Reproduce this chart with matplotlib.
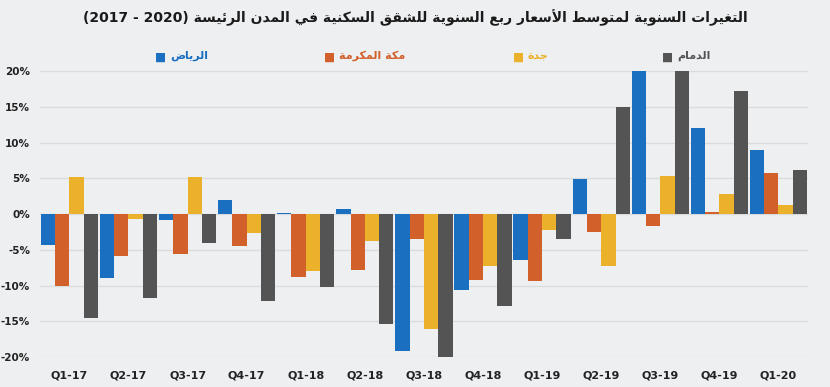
import numpy as np
import matplotlib
matplotlib.use("Agg")
import matplotlib.pyplot as plt

quarters = ['Q1-17', 'Q2-17', 'Q3-17', 'Q4-17', 'Q1-18', 'Q2-18', 'Q3-18',
            'Q4-18', 'Q1-19', 'Q2-19', 'Q3-19', 'Q4-19', 'Q1-20']
riyadh = [-4.4, -9.0, -0.9, 1.9, 0.1, 0.65, -19.1, -10.6, -6.5, 4.9, 20.0, 12.0, 9.0]
makkah = [-10.05, -5.85, -5.6, -4.5, -8.8, -7.8, -3.5, -9.2, -9.35, -2.5, -1.7, 0.35, 5.7]
jeddah = [5.2, -0.7, 5.2, -2.7, -8.0, -3.8, -16.1, -7.25, -2.3, -7.3, 5.3, 2.8, 1.3]
dammam = [-14.6, -11.7, -4.1, -12.1, -10.25, -15.4, -20.0, -12.9, -3.5, 15.0, 20.0, 17.2, 6.1]

series_names = ['الرياض', 'مكة المكرمة', 'جدة', 'الدمام']
colors = ['#1b6fc0', '#d2602a', '#ecb12a', '#545454']
title_ar = 'التغيرات السنوية لمتوسط الأسعار ربع السنوية للشقق السكنية في المدن الرئيسة'
title_years = '(2017 - 2020)'

# matplotlib has no arabic shaping, so pick presentation forms by hand
# (isolated, final, initial, medial)
FORMS = {
    'ا': ('\ufe8d', '\ufe8e', None, None),
    'أ': ('\ufe83', '\ufe84', None, None),
    'ب': ('\ufe8f', '\ufe90', '\ufe91', '\ufe92'),
    'ة': ('\ufe93', '\ufe94', None, None),
    'ت': ('\ufe95', '\ufe96', '\ufe97', '\ufe98'),
    'ج': ('\ufe9d', '\ufe9e', '\ufe9f', '\ufea0'),
    'د': ('\ufea9', '\ufeaa', None, None),
    'ر': ('\ufead', '\ufeae', None, None),
    'س': ('\ufeb1', '\ufeb2', '\ufeb3', '\ufeb4'),
    'ش': ('\ufeb5', '\ufeb6', '\ufeb7', '\ufeb8'),
    'ض': ('\ufebd', '\ufebe', '\ufebf', '\ufec0'),
    'ط': ('\ufec1', '\ufec2', '\ufec3', '\ufec4'),
    'ع': ('\ufec9', '\ufeca', '\ufecb', '\ufecc'),
    'غ': ('\ufecd', '\ufece', '\ufecf', '\ufed0'),
    'ف': ('\ufed1', '\ufed2', '\ufed3', '\ufed4'),
    'ق': ('\ufed5', '\ufed6', '\ufed7', '\ufed8'),
    'ك': ('\ufed9', '\ufeda', '\ufedb', '\ufedc'),
    'ل': ('\ufedd', '\ufede', '\ufedf', '\ufee0'),
    'م': ('\ufee1', '\ufee2', '\ufee3', '\ufee4'),
    'ن': ('\ufee5', '\ufee6', '\ufee7', '\ufee8'),
    'و': ('\ufeed', '\ufeee', None, None),
    'ي': ('\ufef1', '\ufef2', '\ufef3', '\ufef4'),
    'ئ': ('\ufe89', '\ufe8a', '\ufe8b', '\ufe8c'),
}
LAM_ALEF = {'ا': ('\ufefb', '\ufefc'), 'أ': ('\ufef7', '\ufef8')}


def joins_next(c):
    return c in FORMS and FORMS[c][2] is not None


def shape(s):
    out = []
    i = 0
    while i < len(s):
        c = s[i]
        if c not in FORMS:
            out.append(c)
            i += 1
            continue
        prev = i > 0 and joins_next(s[i - 1])
        if c == 'ل' and i + 1 < len(s) and s[i + 1] in LAM_ALEF:
            out.append(LAM_ALEF[s[i + 1]][1 if prev else 0])
            i += 2
            continue
        nxt = joins_next(c) and i + 1 < len(s) and s[i + 1] in FORMS
        iso, fin, ini, med = FORMS[c]
        if prev and nxt:
            out.append(med)
        elif prev:
            out.append(fin)
        elif nxt:
            out.append(ini)
        else:
            out.append(iso)
        i += 1
    return ''.join(reversed(out))


plt.rcParams['font.family'] = 'DejaVu Sans'
fig = plt.figure(figsize=(8.3, 3.87), dpi=100)
fig.patch.set_facecolor('#eeeff1')
ax = fig.add_axes([0.048, 0.0775, 0.9255, 0.739])
ax.set_facecolor('#eeeff1')

x = np.arange(len(quarters))
w = 0.2425
for i, vals in enumerate([riyadh, makkah, jeddah, dammam]):
    ax.bar(x + (i - 1.5) * w, vals, width=w, color=colors[i], zorder=3)

ax.set_xlim(-0.5, len(quarters) - 0.5)
ax.set_ylim(-20, 20)
ax.set_yticks(range(-20, 21, 5))
ax.set_yticklabels([f'{v}%' for v in range(-20, 21, 5)], fontsize=7.5,
                   fontweight='bold', color='#222222')
ax.set_xticks(x)
ax.set_xticklabels(quarters, fontsize=8, fontweight='bold', color='#222222')
ax.tick_params(length=0)
ax.tick_params(axis='y', pad=7)
ax.tick_params(axis='x', pad=10)
ax.grid(axis='y', color='#dadbdd', linewidth=1, zorder=0)
for sp in ax.spines.values():
    sp.set_visible(False)

fig.text(0.5, 0.955, title_years + ' ' + shape(title_ar), ha='center', va='center',
         fontsize=10, fontweight='bold', color='#1a1a1a')

leg_x = [0.187, 0.39, 0.618, 0.798]
for lx, name, c in zip(leg_x, series_names, colors):
    fig.text(lx, 0.852, '\u25a0', ha='left', va='center', fontsize=8.5, color=c)
    fig.text(lx + 0.018, 0.855, shape(name), ha='left', va='center',
             fontsize=8, fontweight='bold', color=c)

fig.savefig('out.png', dpi=100, facecolor=fig.get_facecolor())
